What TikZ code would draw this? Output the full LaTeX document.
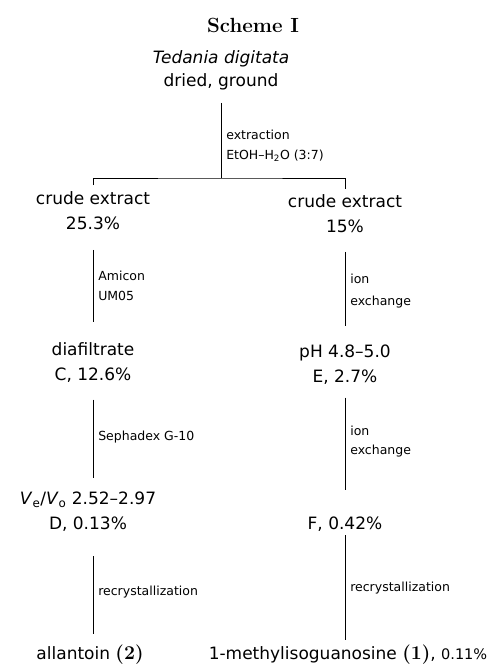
\documentclass[tikz,border=0pt]{standalone}
\usepackage{fontspec}
\newfontfamily\plotfont{DejaVu Sans}
\usetikzlibrary{calc}
\tikzset{
    stage/.style = {font=\plotfont\fontsize{17}{25}\selectfont,
        align=center, inner sep=2pt},
    cond/.style = {font=\plotfont\fontsize{12.5}{20}\selectfont,
        align=left, anchor=west, inner sep=0pt, xshift=5pt},
    link/.style = {draw, line width=0.6pt},
    title/.style = {font=\rmfamily\bfseries\fontsize{20.5}{24}\selectfont}
}
\newcommand\cpd[1]{{\rmfamily\bfseries\fontsize{19.5}{25}\selectfont(#1)}}

\begin{document}
\begin{tikzpicture}[x=1pt, y=-1pt]
    \useasboundingbox (0,0) rectangle (494,671);
    \node [title] (head) at (253,25) {Scheme I};
    \node [stage, font=\plotfont\fontsize{17}{23}\selectfont] (src) at (221,70) {\itshape Tedania digitata\\dried, ground};
    \coordinate (split) at (221,178);
    \node [stage] (crA) at (93,210.5) {crude extract\\25.3\%};
    \node [stage] (crB) at (345,213.5) {crude extract\\15\%};
    \draw [link, shorten <=11pt] (src.south) -- node[cond, yshift=-10.5pt] {extraction\\EtOH–H\textsubscript{2}O (3:7)} (split);
    \draw [link, shorten <=4pt, shorten >=3pt] (crA.north) |- (split) -| (crB.north);
    \node [stage, below of=crA, node distance=152pt] (dia) {diafiltrate\\C, 12.6\%};
    \draw [link, shorten <=18pt, shorten >=18pt] (crA.south) -- node[cond] {Amicon\\UM05} (dia.north);
    \node [stage, below of=crB, node distance=151pt] (ph) {pH 4.8–5.0\\E, 2.7\%};
    \draw [link, shorten <=17pt, shorten >=17pt] (crB.south) -- node[cond, yshift=-2pt, font=\plotfont\fontsize{12.5}{22}\selectfont] {ion\\exchange} (ph.north);
    \node [stage, below of=dia, node distance=149.5pt, xshift=-5pt] (gel) {\textit{V}\textsubscript{e}/\textit{V}\textsubscript{o} 2.52–2.97\\D, 0.13\%};
    \draw [link, shorten <=15pt, shorten >=12pt] (dia.south) -- node[cond] {Sephadex G-10} (dia.south |- gel.north);
    \node [stage, below of=ph, node distance=160pt] (fr) {F, 0.42\%};
    \draw [link, shorten <=11pt, shorten >=25pt] (ph.south) -- node[cond, yshift=9pt, font=\plotfont\fontsize{12.5}{19}\selectfont] {ion\\exchange} (ph.south |- fr.north);
    \node [stage, below of=gel, node distance=143pt, xshift=2pt] (allan) {allantoin \cpd{2}};
    \draw [link, shorten <=22pt, shorten >=9pt] (gel.south -| dia.south) -- node[cond, yshift=-4pt] {recrystallization} (dia.south |- allan.north);
    \node [stage, below of=fr, node distance=130pt, xshift=3pt] (miso) {1-methylisoguanosine \cpd{1}, {\fontsize{14.5}{25}\selectfont 0.11\%}};
    \draw [link, shorten <=1pt, shorten >=3pt] (fr.south) -- node[cond] {recrystallization} (fr.south |- miso.north);
\end{tikzpicture}
\end{document}
